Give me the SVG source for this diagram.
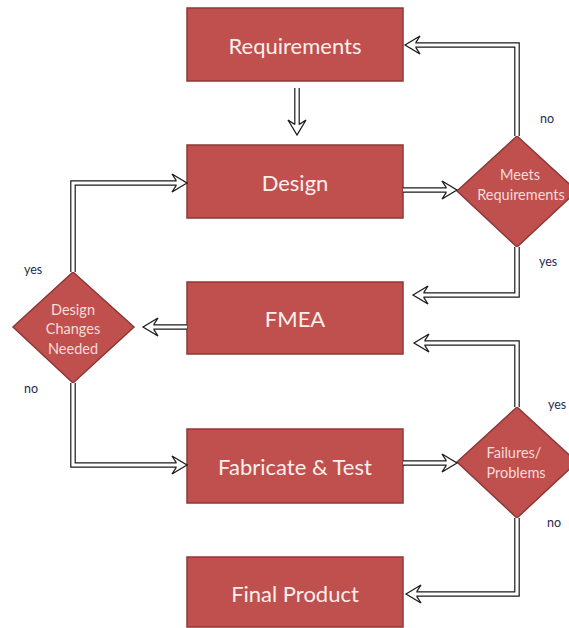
<svg xmlns="http://www.w3.org/2000/svg" xmlns:xlink="http://www.w3.org/1999/xlink" width="569" height="628" viewBox="0 0 569 628">
<style>
.box{fill:#c0504d;stroke:#8c3836;stroke-width:1.5}
.dia{fill:#c0504d;stroke:#8c3836;stroke-width:1.5}
.bt{font-family:Lato,"Open Sans",sans-serif;font-size:22px;fill:#fbefee;text-anchor:middle;dominant-baseline:central}
.dt{font-family:Lato,"Open Sans",sans-serif;font-size:14.5px;fill:#f6dcda;text-anchor:middle;dominant-baseline:central}
.lb{font-family:Lato,"Open Sans",sans-serif;font-size:12.5px;fill:#1f2d4d}
.so{fill:none;stroke:#1a1a1a;stroke-width:5.6;stroke-linejoin:miter}
.si{fill:none;stroke:#ffffff;stroke-width:3.2;stroke-linejoin:miter}
.hd{fill:#ffffff;stroke:#1a1a1a;stroke-width:1.3;stroke-linejoin:miter}
</style>
<defs>
<polygon id="head" class="hd" points="0,0 -15,9 -11,2.8 -11,-2.8 -15,-9"/>
</defs>
<rect width="569" height="628" fill="#ffffff"/>
<g id="requirements"><rect class="box" x="187" y="8" width="216" height="73"/><text class="bt" x="295" y="45">Requirements</text></g>
<g id="design"><rect class="box" x="187" y="145" width="216" height="73"/><text class="bt" x="295" y="182">Design</text></g>
<g id="fmea"><rect class="box" x="187" y="282" width="216" height="72"/><text class="bt" x="295" y="318">FMEA</text></g>
<g id="fabricate"><rect class="box" x="187" y="429" width="216" height="74"/><text class="bt" x="295" y="466">Fabricate &amp; Test</text></g>
<g id="final"><rect class="box" x="187" y="557" width="216" height="70"/><text class="bt" x="295" y="593">Final Product</text></g>
<g id="meets"><polygon class="dia" points="517,136 577,191 517,247 457,191"/><text class="dt" x="520" y="174">Meets</text><text class="dt" x="521" y="194">Requirements</text></g>
<g id="changes"><polygon class="dia" points="73,272 134,327 73,383 13,327"/><text class="dt" x="73" y="309">Design</text><text class="dt" x="73" y="328">Changes</text><text class="dt" x="73" y="348">Needed</text></g>
<g id="failures"><polygon class="dia" points="517,407 577,462 517,518 457,462"/><text class="dt" x="514" y="452">Failures/</text><text class="dt" x="516" y="472">Problems</text></g>
<g id="connectors">
<path class="so" d="M297,88 V126"/><use xlink:href="#head" transform="translate(297,135) rotate(90)"/><path class="si" d="M297,88 V127"/>
<path class="so" d="M403,190 H448"/><use xlink:href="#head" transform="translate(457,190)"/><path class="si" d="M403,190 H449"/>
<path class="so" d="M517,136 V45 H414"/><use xlink:href="#head" transform="translate(405,45) rotate(180)"/><path class="si" d="M517,136 V45 H413"/>
<path class="so" d="M517,247 V295 H422"/><use xlink:href="#head" transform="translate(413,295) rotate(180)"/><path class="si" d="M517,247 V295 H421"/>
<path class="so" d="M187,327 H152"/><use xlink:href="#head" transform="translate(143,327) rotate(180)"/><path class="si" d="M187,327 H151"/>
<path class="so" d="M73,272 V183 H178"/><use xlink:href="#head" transform="translate(187,183)"/><path class="si" d="M73,272 V183 H179"/>
<path class="so" d="M73,383 V465 H178"/><use xlink:href="#head" transform="translate(187,465)"/><path class="si" d="M73,383 V465 H179"/>
<path class="so" d="M403,463 H448"/><use xlink:href="#head" transform="translate(457,463)"/><path class="si" d="M403,463 H449"/>
<path class="so" d="M517,407 V343 H423"/><use xlink:href="#head" transform="translate(414,343) rotate(180)"/><path class="si" d="M517,407 V343 H422"/>
<path class="so" d="M517,518 V594 H415"/><use xlink:href="#head" transform="translate(406,594) rotate(180)"/><path class="si" d="M517,518 V594 H414"/>
</g>
<g id="labels">
<text class="lb" x="540" y="123">no</text>
<text class="lb" x="539" y="266">yes</text>
<text class="lb" x="24" y="274">yes</text>
<text class="lb" x="24" y="393">no</text>
<text class="lb" x="548" y="409">yes</text>
<text class="lb" x="547" y="527">no</text>
</g>
</svg>
